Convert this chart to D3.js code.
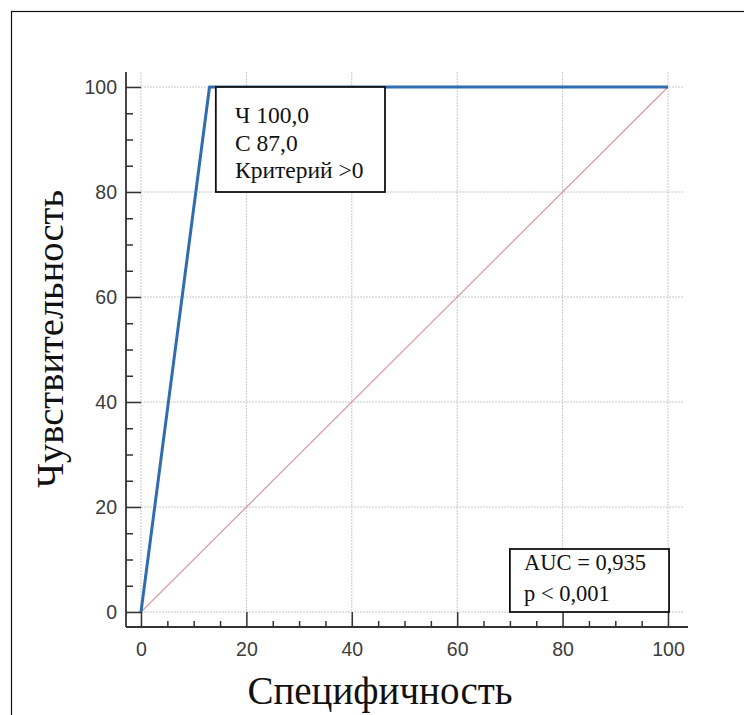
<!DOCTYPE html>
<html>
<head>
<meta charset="utf-8">
<script src="https://cdn.jsdelivr.net/npm/d3@7"></script>
<style>
  html, body { margin: 0; padding: 0; background: #fff; }
  svg { display: block; }
</style>
</head>
<body>
<div id="chart"></div>
<script>
// ROC curve points (100 - specificity, sensitivity)
const rocX = [0, 13, 100];
const rocY = [0, 100, 100];
// reference diagonal
const diagX = [0, 100];
const diagY = [0, 100];

const majorTicks = [0, 20, 40, 60, 80, 100];
const minorTicks = [5, 10, 15, 25, 30, 35, 45, 50, 55, 65, 70, 75, 85, 90, 95];

const cutoffLines = ['Ч 100,0', 'С 87,0', 'Критерий >0'];
const aucLines = ['AUC = 0,935', 'p < 0,001'];

const xTitle = 'Специфичность';
const yTitle = 'Чувствительность';

const width = 744, height = 715;

const svg = d3.select('#chart')
    .append('svg')
    .attr('width', width)
    .attr('height', height);

// outer frame
svg.append('rect')
    .attr('x', 11.5).attr('y', 11.5)
    .attr('width', width).attr('height', height)
    .attr('fill', 'none')
    .attr('stroke', '#111')
    .attr('stroke-width', 1.2);

const x = d3.scaleLinear().domain([0, 100]).range([141, 668]);
const y = d3.scaleLinear().domain([0, 100]).range([612, 87]);

const axisX = 126;   // y axis line position
const axisY = 627;   // x axis line position
const plotTop = 72, plotRight = 688;

// grid
const grid = svg.append('g')
    .attr('stroke', '#c8c8c8')
    .attr('stroke-width', 1)
    .attr('stroke-dasharray', '2,1');

grid.selectAll('line.v')
    .data(majorTicks)
    .enter().append('line')
    .attr('class', 'v')
    .attr('x1', d => x(d)).attr('x2', d => x(d))
    .attr('y1', plotTop).attr('y2', axisY);

grid.selectAll('line.h')
    .data(majorTicks)
    .enter().append('line')
    .attr('class', 'h')
    .attr('x1', axisX).attr('x2', 683)
    .attr('y1', d => y(d)).attr('y2', d => y(d));

// diagonal
const line = d3.line().x(d => x(d[0])).y(d => y(d[1]));

svg.append('path')
    .datum(d3.zip(diagX, diagY))
    .attr('d', line)
    .attr('fill', 'none')
    .attr('stroke', '#d99a9a')
    .attr('stroke-width', 1.2);

// ROC curve
svg.append('path')
    .datum(d3.zip(rocX, rocY))
    .attr('d', line)
    .attr('fill', 'none')
    .attr('stroke', '#2f6cb0')
    .attr('stroke-width', 3)
    .attr('stroke-linejoin', 'round');

// axes
const tickColor = '#333';

const yAxis = svg.append('g')
    .attr('transform', `translate(${axisX},0)`)
    .call(d3.axisLeft(y).tickValues(majorTicks).tickSize(-15).tickPadding(9));
const yMinor = svg.append('g')
    .attr('transform', `translate(${axisX},0)`)
    .call(d3.axisLeft(y).tickValues(minorTicks).tickSize(-7).tickFormat(''));

const xAxis = svg.append('g')
    .attr('transform', `translate(0,${axisY})`)
    .call(d3.axisBottom(x).tickValues(majorTicks).tickSize(-15).tickPadding(15));
const xMinor = svg.append('g')
    .attr('transform', `translate(0,${axisY})`)
    .call(d3.axisBottom(x).tickValues(minorTicks).tickSize(-6).tickFormat(''));

[yAxis, yMinor, xAxis, xMinor].forEach(g => {
    g.select('.domain').remove();
    g.selectAll('line').attr('stroke', tickColor).attr('stroke-width', 1.5);
    g.selectAll('text')
        .attr('fill', '#3c3c3c')
        .style('font-family', '"Liberation Sans", Arial, sans-serif')
        .style('font-size', '19.5px');
});

svg.append('line')
    .attr('x1', axisX).attr('x2', axisX)
    .attr('y1', plotTop).attr('y2', axisY)
    .attr('stroke', tickColor).attr('stroke-width', 1.8);
svg.append('line')
    .attr('x1', axisX).attr('x2', plotRight)
    .attr('y1', axisY).attr('y2', axisY)
    .attr('stroke', tickColor).attr('stroke-width', 1.8);

// axis titles
svg.append('text')
    .attr('x', 380).attr('y', 704)
    .attr('text-anchor', 'middle')
    .style('font-family', '"Liberation Serif", "Times New Roman", serif')
    .style('font-size', '39px')
    .attr('fill', '#111')
    .text(xTitle);

svg.append('text')
    .attr('transform', 'translate(63,339) rotate(-90)')
    .attr('text-anchor', 'middle')
    .style('font-family', '"Liberation Serif", "Times New Roman", serif')
    .style('font-size', '38.5px')
    .attr('fill', '#111')
    .text(yTitle);

// annotation boxes
function note(x0, x1, y0, y1, lines, tx, ty, step, size) {
    const g = svg.append('g');
    g.append('rect')
        .attr('x', x(x0)).attr('y', y(y1))
        .attr('width', x(x1) - x(x0))
        .attr('height', y(y0) - y(y1))
        .attr('fill', '#fff')
        .attr('stroke', '#111')
        .attr('stroke-width', 1.8);
    g.selectAll('text')
        .data(lines)
        .enter().append('text')
        .attr('x', tx)
        .attr('y', (d, i) => ty + i * step)
        .style('font-family', '"Liberation Serif", "Times New Roman", serif')
        .style('font-size', size + 'px')
        .attr('fill', '#111')
        .text(d => d);
}

note(14.2, 46.3, 80, 100, cutoffLines, 235, 123, 27.5, 23.5);
note(70, 100.2, 0, 12, aucLines, 524, 570, 31, 22.5);
</script>
</body>
</html>
